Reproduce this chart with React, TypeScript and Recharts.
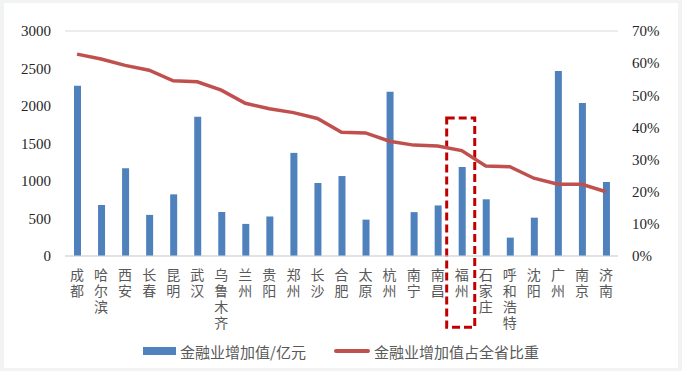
import React from "react";
import {
  ComposedChart,
  Bar,
  Line,
  XAxis,
  YAxis,
  CartesianGrid,
  Legend,
  ReferenceArea,
} from "recharts";

const cities = [
  "成都", "哈尔滨", "西安", "长春", "昆明", "武汉", "乌鲁木齐", "兰州",
  "贵阳", "郑州", "长沙", "合肥", "太原", "杭州", "南宁", "南昌",
  "福州", "石家庄", "呼和浩特", "沈阳", "广州", "南京", "济南",
];

// 金融业增加值/亿元
const financeValue = [
  2270, 680, 1170, 548, 822, 1858, 587, 428, 527, 1375, 973, 1066,
  485, 2190, 585, 674, 1187, 756, 245, 511, 2467, 2040, 987,
];

// 金融业增加值占全省比重 (%)
const provinceShare = [
  62.8, 61.3, 59.3, 57.8, 54.5, 54.2, 51.6, 47.5, 45.8, 44.6, 42.8, 38.5,
  38.3, 35.7, 34.5, 34.2, 32.8, 28.0, 27.8, 24.2, 22.3, 22.3, 20.0,
];

const leftTicks = [0, 500, 1000, 1500, 2000, 2500, 3000];
const rightTicks = [0, 10, 20, 30, 40, 50, 60, 70];

// highlighted city box (left-axis units)
const highlightCity = "福州";
const highlightTop = 1840;
const highlightBottom = -950;

const data = cities.map((name, i) => ({
  name,
  value: financeValue[i],
  share: provinceShare[i],
}));

const BAR_COLOR = "#4F81BD";
const LINE_COLOR = "#C0504D";
const serif = "'Liberation Serif', 'Times New Roman', serif";
const cjk = "'Noto Sans CJK SC', sans-serif";

// city name written top to bottom
function CityTick(props: any) {
  const { x, y, payload } = props;
  return (
    <text
      x={x}
      y={y + 4}
      textAnchor="start"
      fontSize={14}
      fontFamily={cjk}
      fill="#595959"
      style={{ writingMode: "vertical-rl", letterSpacing: 2 }}
    >
      {payload.value}
    </text>
  );
}

function LegendContent() {
  return (
    <div
      style={{
        display: "flex",
        justifyContent: "center",
        alignItems: "center",
        fontFamily: cjk,
        fontSize: 15,
        color: "#595959",
        height: 20,
      }}
    >
      <span style={{ display: "inline-block", width: 33, height: 8, background: BAR_COLOR, marginRight: 4 }} />
      <span>金融业增加值/亿元</span>
      <span style={{ display: "inline-block", width: 36, height: 4, borderRadius: 2, background: LINE_COLOR, marginLeft: 28, marginRight: 4 }} />
      <span>金融业增加值占全省比重</span>
    </div>
  );
}

export default function App() {
  return (
    <div style={{ width: 682, height: 371, background: "#F2F4F4", position: "relative" }}>
      <style>{`body{margin:0}`}</style>
      <div style={{ position: "absolute", left: 4, top: 3, width: 674, height: 365, background: "#fff" }} />
      <div style={{ position: "absolute", left: 0, top: 0 }}>
        <ComposedChart
          width={682}
          height={371}
          data={data}
          margin={{ top: 31, right: 0, bottom: 0, left: 0 }}
        >
          <CartesianGrid vertical={false} stroke="#D9D9D9" strokeWidth={1} />
          <XAxis
            dataKey="name"
            interval={0}
            height={115}
            axisLine={{ stroke: "#D9D9D9" }}
            tickLine={false}
            tick={<CityTick />}
          />
          <YAxis
            yAxisId="left"
            width={65}
            domain={[0, 3000]}
            ticks={leftTicks}
            axisLine={false}
            tickLine={false}
            tickMargin={8}
            tick={{ fontSize: 15, fontFamily: serif, fill: "#262626" }}
          />
          <YAxis
            yAxisId="right"
            orientation="right"
            width={64}
            domain={[0, 70]}
            ticks={rightTicks}
            tickFormatter={(v) => `${v}%`}
            axisLine={false}
            tickLine={false}
            tickMargin={8}
            tick={{ fontSize: 15, fontFamily: serif, fill: "#262626", textAnchor: "start" }}
          />
          <Bar
            yAxisId="left"
            dataKey="value"
            fill={BAR_COLOR}
            barSize={7}
            isAnimationActive={false}
          />
          <Line
            yAxisId="right"
            dataKey="share"
            type="linear"
            stroke={LINE_COLOR}
            strokeWidth={3.5}
            dot={false}
            activeDot={false}
            isAnimationActive={false}
          />
          <ReferenceArea
            yAxisId="left"
            x1={highlightCity}
            x2={highlightCity}
            y1={highlightBottom}
            y2={highlightTop}
            ifOverflow="visible"
            shape={(p: any) => (
              <rect
                x={p.x - 3}
                y={p.y}
                width={p.width + 4}
                height={p.height}
                fill="none"
                stroke="#C00000"
                strokeWidth={3}
                strokeDasharray="8 4"
              />
            )}
          />
          <Legend
            verticalAlign="middle"
            wrapperStyle={{ top: 341, left: 0, width: 682 }}
            content={<LegendContent />}
          />
        </ComposedChart>
      </div>
    </div>
  );
}
